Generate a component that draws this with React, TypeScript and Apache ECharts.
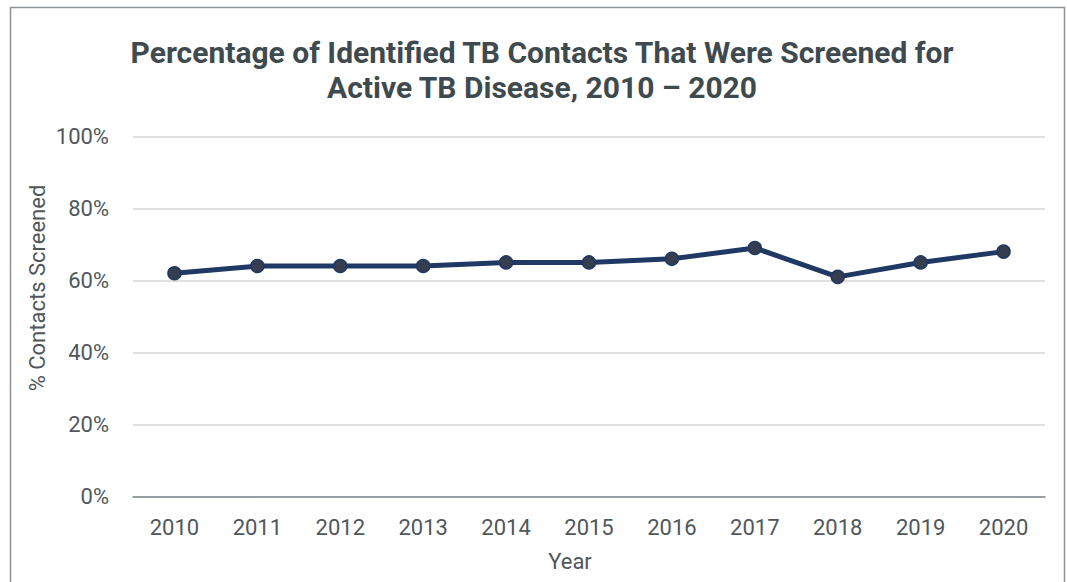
import React, { useEffect, useRef } from "react";
import * as echarts from "echarts";

const years = ["2010", "2011", "2012", "2013", "2014", "2015", "2016", "2017", "2018", "2019", "2020"];
const screened = [62, 64, 64, 64, 65, 65, 66, 69, 61, 65, 68];
const yTicks = [0, 20, 40, 60, 80, 100];

const FONT = "'Roboto', sans-serif";
const LABEL = "#4f575b";

export default function App() {
  const ref = useRef<HTMLDivElement>(null);
  useEffect(() => {
    document.body.style.margin = "0";
    const chart = echarts.init(ref.current!, null, { renderer: "svg" });
    chart.setOption({
      animation: false,
      backgroundColor: "#ffffff",
      graphic: [
        {
          type: "rect",
          shape: { x: 10.5, y: 7.5, width: 1054, height: 600 },
          style: { fill: "none", stroke: "#8c9296", lineWidth: 1.5 },
          silent: true,
        },
        {
          type: "text",
          x: 37,
          y: 288,
          rotation: Math.PI / 2,
          style: {
            text: "% Contacts Screened",
            fontFamily: FONT,
            fontSize: 22,
            fill: LABEL,
            align: "center",
            verticalAlign: "middle",
          },
          silent: true,
        },
        {
          type: "text",
          x: 570,
          y: 561,
          style: {
            text: "Year",
            fontFamily: FONT,
            fontSize: 22,
            fill: LABEL,
            align: "center",
            verticalAlign: "middle",
          },
          silent: true,
        },
      ],
      title: {
        text: "Percentage of Identified TB Contacts That Were Screened for\nActive TB Disease, 2010 – 2020",
        left: 537,
        top: 30,
        textAlign: "center",
        textStyle: {
          fontFamily: FONT,
          fontSize: 30,
          fontWeight: "bold",
          color: "#3f4a4f",
          lineHeight: 35,
        },
      },
      grid: { left: 133, right: 22, top: 136.3, bottom: 85.3, containLabel: false },
      xAxis: {
        type: "category",
        data: years,
        boundaryGap: true,
        axisLine: { show: true, lineStyle: { color: "#7f878c", width: 1.5 } },
        axisTick: { show: false },
        axisLabel: { fontFamily: FONT, fontSize: 22, color: LABEL, margin: 20 },
      },
      yAxis: {
        type: "value",
        min: 0,
        max: 100,
        interval: 20,
        axisLine: { show: false },
        axisTick: { show: false },
        splitLine: { lineStyle: { color: "#d3d6d8", width: 1.5 } },
        axisLabel: {
          fontFamily: FONT,
          fontSize: 22,
          color: LABEL,
          margin: 24,
          formatter: (v: number) => (yTicks.includes(v) ? v + "%" : ""),
        },
      },
      series: [
        {
          type: "line",
          data: screened,
          symbol: "circle",
          symbolSize: 13,
          lineStyle: { color: "#203864", width: 5 },
          itemStyle: { color: "#343e4f", borderColor: "#203864", borderWidth: 1.5 },
        },
      ],
    });
    return () => chart.dispose();
  }, []);
  return <div ref={ref} style={{ width: 1067, height: 582 }} />;
}
